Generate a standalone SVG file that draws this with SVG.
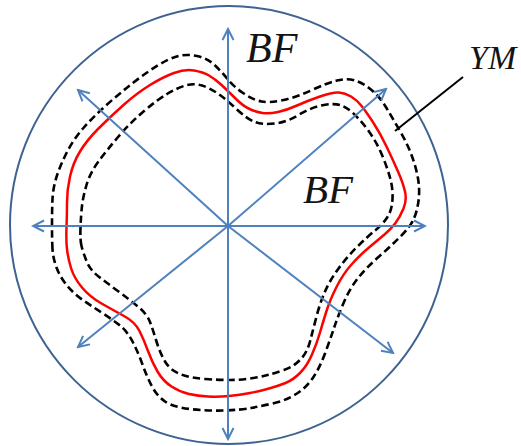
<svg xmlns="http://www.w3.org/2000/svg" width="521" height="446" viewBox="0 0 521 446">
<style>
.circ{fill:none;stroke:#3E6392;stroke-width:2}
.arr{fill:none;stroke:#4F81BD;stroke-width:2;marker-end:url(#ah)}
.red{fill:none;stroke:#FF0000;stroke-width:2.5}
.dash{fill:none;stroke:#000;stroke-width:2.6;stroke-dasharray:7.5 4}
.lead{stroke:#000;stroke-width:2;fill:none}
</style>
<defs>
<marker id="ah" viewBox="-13 -7 15 14" refX="0" refY="0" markerWidth="15" markerHeight="14" markerUnits="userSpaceOnUse" orient="auto">
<path d="M-11,-5.5 L0,0 L-11,5.5" fill="none" stroke="#4F81BD" stroke-width="2"/>
</marker>
</defs>
<rect width="521" height="446" fill="#fff"/>
<g id="outer-circle"><circle class="circ" cx="229" cy="225" r="219"/></g>
<g id="outer-boundary"><path class="dash" d="M52.5,249 Q52,240 52,225 Q52,210 52.5,199 Q53,188 56.5,177 Q60,166 66.5,153 Q73,140 83,128.5 Q93,117 106.5,105 Q120,93 133.5,82.5 Q147,72 158.5,65 Q170,58 178.5,56 Q187,54 197,56 Q207,58 214,64.5 Q221,71 227,78.5 Q233,86 243,93 Q253,100 261.5,101.5 Q270,103 283.5,100 Q297,97 312,90 Q327,83 337,80.5 Q347,78 355,80.5 Q363,83 371.5,90 Q380,97 386.5,108 Q393,119 400,131 Q407,143 411.5,155 Q416,167 418,178.5 Q420,190 418.5,201 Q417,212 413.5,219.5 Q410,227 400,237 Q390,247 378.5,257 Q367,267 358.5,277.5 Q350,288 344,302 Q338,316 334,328 Q330,340 325,353.5 Q320,367 313.5,377 Q307,387 297,393.5 Q287,400 274.5,403 Q262,406 251,408 Q240,410 223.5,410.5 Q207,411 190,409 Q173,407 165,401.5 Q157,396 152,386.5 Q147,377 142.5,364.5 Q138,352 132.5,341.5 Q127,331 120,325.5 Q113,320 103,313.5 Q93,307 83.5,300.5 Q74,294 67,285.5 Q60,277 56.5,267.5 Q53,258 52.5,249 Z"/></g>
<g id="yield-curve"><path class="red" d="M67,249 Q66,240 66.5,227.5 Q67,215 67,202.5 Q67,190 70,176.5 Q73,163 80,151.5 Q87,140 98.5,128.5 Q110,117 123.5,105 Q137,93 150,85 Q163,77 174,73 Q185,69 194,70.5 Q203,72 209,75.5 Q215,79 221,84.5 Q227,90 235,98 Q243,106 249.5,109 Q256,112 262.5,113 Q269,114 278,112 Q287,110 297,105.5 Q307,101 320,96.5 Q333,92 339,92.5 Q345,93 351,96.5 Q357,100 362,106.5 Q367,113 373.5,123 Q380,133 386.5,146.5 Q393,160 398,171.5 Q403,183 405,191.5 Q407,200 403.5,208.5 Q400,217 395.5,223 Q391,229 384.5,234.5 Q378,240 369,247.5 Q360,255 351.5,264.5 Q343,274 336.5,287 Q330,300 326.5,311 Q323,322 320,332.5 Q317,343 312,354.5 Q307,366 300,373 Q293,380 285.5,383 Q278,386 269,388.5 Q260,391 250,393 Q240,395 229,396 Q218,397 208,396.5 Q198,396 189,394 Q180,392 171.5,386.5 Q163,381 157.5,371.5 Q152,362 148,351 Q144,340 139.5,331 Q135,322 124,316 Q113,310 101.5,303.5 Q90,297 82,287.5 Q74,278 71,268 Q68,258 67,249 Z"/></g>
<g id="inner-boundary"><path class="dash" d="M81.5,246 Q80,240 80.5,227.5 Q81,215 82,206 Q83,197 86.5,185 Q90,173 98.5,161.5 Q107,150 118.5,136.5 Q130,123 143.5,111.5 Q157,100 167,94 Q177,88 185.5,85.5 Q194,83 202,85.5 Q210,88 218.5,94 Q227,100 237,109.5 Q247,119 255,122 Q263,125 275,123.5 Q287,122 298.5,115 Q310,108 321.5,105.5 Q333,103 340,105 Q347,107 355,115 Q363,123 370,133 Q377,143 382,155 Q387,167 390,177.5 Q393,188 392.5,199 Q392,210 387.5,217 Q383,224 375,230.5 Q367,237 357,247 Q347,257 338.5,268.5 Q330,280 325,291.5 Q320,303 316.5,316.5 Q313,330 310,341.5 Q307,353 300,360 Q293,367 284,370 Q275,373 267.5,375 Q260,377 250,378.5 Q240,380 230,380 Q220,380 205,379 Q190,378 180,374 Q170,370 165,361.5 Q160,353 156.5,341.5 Q153,330 150,322 Q147,314 138.5,307 Q130,300 118.5,291.5 Q107,283 98.5,276.5 Q90,270 86.5,261 Q83,252 81.5,246 Z"/></g>
<g id="connectors">
<line class="arr" x1="228" y1="226" x2="33" y2="226"/>
<line class="arr" x1="228" y1="226" x2="425" y2="226"/>
<line class="arr" x1="228" y1="226" x2="228" y2="29"/>
<line class="arr" x1="228" y1="226" x2="228" y2="439"/>
<line class="arr" x1="228" y1="226" x2="78" y2="90"/>
<line class="arr" x1="228" y1="226" x2="386" y2="89"/>
<line class="arr" x1="228" y1="226" x2="78" y2="347"/>
<line class="arr" x1="228" y1="226" x2="393" y2="353"/>
<line class="lead" x1="463" y1="77" x2="395" y2="131"/>
</g>
<g id="label-bf-top"><text font-family="Liberation Serif, serif" font-style="italic" fill="#141414" x="246" y="62" font-size="42">BF</text></g>
<g id="label-bf-inner"><text font-family="Liberation Serif, serif" font-style="italic" fill="#141414" x="303" y="203" font-size="41">BF</text></g>
<g id="label-ym"><text font-family="Liberation Serif, serif" font-style="italic" fill="#141414" x="469" y="69" font-size="34">YM</text></g>
</svg>
